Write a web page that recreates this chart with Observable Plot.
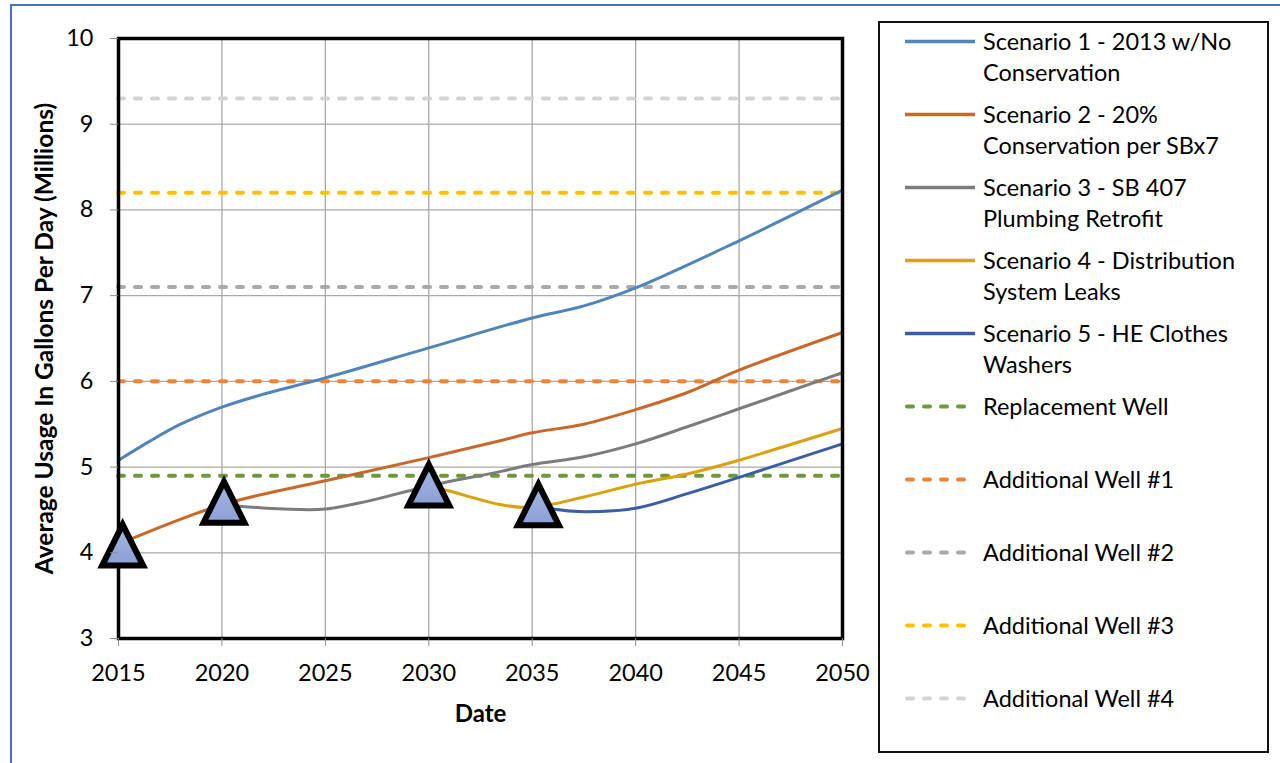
<!DOCTYPE html>
<html>
<head>
<meta charset="utf-8">
<script src="https://cdn.jsdelivr.net/npm/d3@7"></script>
<script src="https://cdn.jsdelivr.net/npm/@observablehq/plot@0.6"></script>
<style>
  html, body { margin: 0; padding: 0; background: #fff; }
  body { width: 1280px; height: 763px; position: relative; overflow: hidden; font-family: Lato, "Noto Sans", sans-serif; }
  #sheet { position: absolute; left: 10px; top: 4px; right: -4px; bottom: -10px; border-left: 2px solid #4472c4; border-top: 2px solid #4472c4; }
  #chart { position: absolute; left: 0; top: 0; }
  #legend { position: absolute; left: 878px; top: 21px; width: 387px; height: 728px; border: 2px solid #111; background: #fff; }
  .entry { position: absolute; left: 25px; display: flex; align-items: flex-start; }
  .entry svg { flex: none; }
  .entry span { margin-left: 6px; font-size: 23.5px; line-height: 31px; color: #000; white-space: pre-line; }
</style>
</head>
<body>
<div id="sheet"></div>
<div id="chart"></div>
<div id="legend"></div>
<script>
// Projected demand scenarios (millions of gallons per day)
const scenarioNames = [
  "Scenario 1 - 2013 w/No\nConservation",
  "Scenario 2 - 20%\nConservation per SBx7",
  "Scenario 3 - SB 407\nPlumbing Retrofit",
  "Scenario 4 - Distribution\nSystem Leaks",
  "Scenario 5 - HE Clothes\nWashers"
];
const scenarioColors = ["#4f84bd", "#c8692b", "#7c7c7c", "#d8a208", "#3a5da6"];

const s1Years  = [2015, 2016.5, 2018, 2020, 2022, 2025, 2030, 2035, 2037.5, 2040, 2045, 2050];
const s1Values = [5.08, 5.30, 5.50, 5.70, 5.85, 6.04, 6.39, 6.74, 6.88, 7.09, 7.64, 8.23];

const s2Years  = [2015, 2020, 2025, 2030, 2033.5, 2035, 2037.5, 2040, 2042.5, 2045, 2050];
const s2Values = [4.10, 4.56, 4.84, 5.11, 5.31, 5.40, 5.50, 5.67, 5.87, 6.13, 6.57];

const s3Years  = [2020, 2021, 2023, 2025, 2027, 2030, 2033.5, 2035, 2037.5, 2040, 2042.5, 2045, 2047.5, 2050];
const s3Values = [4.56, 4.54, 4.51, 4.51, 4.60, 4.78, 4.95, 5.03, 5.12, 5.27, 5.47, 5.68, 5.89, 6.10];

const s4Years  = [2030, 2031, 2033.5, 2035, 2037.5, 2040, 2042.5, 2045, 2050];
const s4Values = [4.78, 4.72, 4.56, 4.53, 4.65, 4.80, 4.92, 5.08, 5.45];

const s5Years  = [2035.3, 2036, 2037.5, 2040, 2042.5, 2045, 2050];
const s5Values = [4.55, 4.51, 4.48, 4.52, 4.69, 4.88, 5.27];

// Well capacities (flat supply levels)
const wellNames  = ["Replacement Well", "Additional Well #1", "Additional Well #2", "Additional Well #3", "Additional Well #4"];
const wellLevels = [4.9, 6.0, 7.1, 8.2, 9.3];
const wellColors = ["#6a9a3c", "#f08434", "#a9a9a9", "#ffc000", "#d3d3d3"];

// Points where a new scenario begins
const triggerYears  = [2015.2, 2020.1, 2030, 2035.3];
const triggerValues = [4.09, 4.59, 4.79, 4.56];

const xTicks = [2015, 2020, 2025, 2030, 2035, 2040, 2045, 2050];
const yTicks = [3, 4, 5, 6, 7, 8, 9, 10];
const yTitle = "Average Usage In Gallons Per Day (Millions)";
const xTitle = "Date";

const scenarioYears = [s1Years, s2Years, s3Years, s4Years, s5Years];
const scenarioValues = [s1Values, s2Values, s3Values, s4Values, s5Values];
const scenarioRows = scenarioYears.flatMap((ys, i) =>
  ys.map((year, j) => ({series: i, year, value: scenarioValues[i][j], color: scenarioColors[i]})));
const wellRows = wellLevels.map((level, i) => ({level, color: wellColors[i]}));
const triggerRows = triggerYears.map((year, i) => ({year, value: triggerValues[i]}));

// Isosceles triangle marker (as wide as it is tall), centred on its point
const triangle = {
  draw(context, size) {
    const h = Math.sqrt(size / Math.PI);
    context.moveTo(0, -h);
    context.lineTo(h, h);
    context.lineTo(-h, h);
    context.closePath();
  }
};

const plot = Plot.plot({
  width: 1280,
  height: 763,
  marginLeft: 118,
  marginRight: 438,
  marginTop: 38,
  marginBottom: 125,
  style: {fontFamily: "Lato, 'Noto Sans', sans-serif", fontSize: "23.5px", color: "#000", background: "transparent"},
  x: {domain: [2015, 2050]},
  y: {domain: [3, 10]},
  color: {type: "identity"},
  marks: [
    Plot.frame({fill: "white", stroke: "none"}),
    Plot.gridX(xTicks, {stroke: "#a8a8a8", strokeOpacity: 1, strokeWidth: 1.3}),
    Plot.gridY(yTicks, {stroke: "#a8a8a8", strokeOpacity: 1, strokeWidth: 1.3}),
    Plot.ruleY(wellRows, {y: "level", stroke: "color", strokeWidth: 4, strokeDasharray: "6,11", strokeLinecap: "round"}),
    Plot.line(scenarioRows, {x: "year", y: "value", z: "series", stroke: "color", strokeWidth: 3, curve: "catmull-rom"}),
    Plot.frame({stroke: "#000", strokeWidth: 3.5}),
    Plot.dot(triggerRows, {x: "year", y: "value", symbol: triangle, r: 20.5, fill: "url(#triFill)", stroke: "#000", strokeWidth: 6, strokeLinejoin: "miter"}),
    Plot.axisY(yTicks, {tickSize: 8, tickPadding: 17, tickFormat: "d", stroke: "#8c8c8c", fill: "#000", label: null}),
    Plot.axisX(xTicks, {tickSize: 8, tickPadding: 18, tickFormat: "d", stroke: "#8c8c8c", fill: "#000", label: null}),
    Plot.text([yTitle], {text: d => d, frameAnchor: "left", textAnchor: "middle", dx: -73, rotate: -90, fontWeight: "bold", fontSize: 24.5, fill: "#000"}),
    Plot.text([xTitle], {text: d => d, frameAnchor: "bottom", textAnchor: "middle", dy: 83, fontWeight: "bold", fontSize: 24, fill: "#000"})
  ]
});

const svg = d3.select(plot);
svg.insert("defs", ":first-child").html(
  '<linearGradient id="triFill" x1="0" y1="0" x2="0" y2="1">' +
  '<stop offset="0" stop-color="#a6b7e3"/><stop offset="1" stop-color="#8a9fd4"/></linearGradient>');
// soft drop shadow under the plotting area
svg.select('g[aria-label="frame"]').style("filter", "drop-shadow(4px 4px 3px rgba(0,0,0,0.35))");
document.getElementById("chart").appendChild(plot);

// Legend
const legend = d3.select("#legend");
const entries = [
  ...scenarioNames.map((name, i) => ({name, color: scenarioColors[i], dashed: false})),
  ...wellNames.map((name, i) => ({name, color: wellColors[i], dashed: true}))
];
entries.forEach((e, i) => {
  const row = legend.append("div").attr("class", "entry").style("top", `${3 + i * 73}px`);
  const s = row.append("svg").attr("width", 72).attr("height", 31);
  s.append("line")
    .attr("x1", e.dashed ? 2 : 0).attr("x2", 70).attr("y1", 15.5).attr("y2", 15.5)
    .attr("stroke", e.color)
    .attr("stroke-width", e.dashed ? 4 : 3.5)
    .attr("stroke-linecap", e.dashed ? "round" : "butt")
    .attr("stroke-dasharray", e.dashed ? "6,11" : null);
  row.append("span").text(e.name);
});
</script>
</body>
</html>
